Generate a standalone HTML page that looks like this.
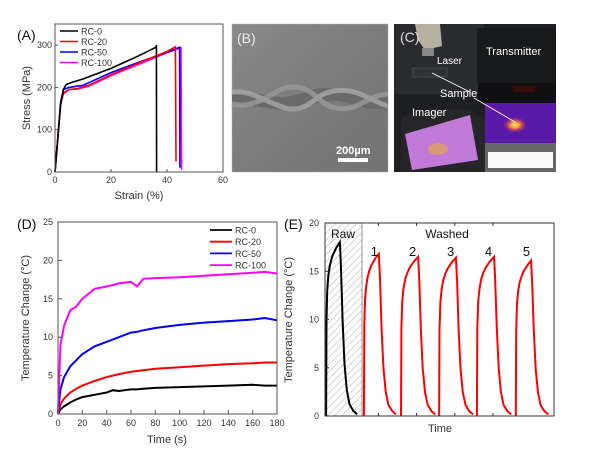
<!DOCTYPE html>
<html><head><meta charset="utf-8">
<style>
html,body{margin:0;padding:0;background:#fff;}
svg{display:block;font-family:"Liberation Sans",Arial,sans-serif;}
</style></head>
<body>
<svg id="fig" width="600" height="461" viewBox="0 0 600 461">
<defs>
<pattern id="hatch" width="5" height="5" patternUnits="userSpaceOnUse" patternTransform="rotate(45)">
<rect width="5" height="5" fill="#fff"/><line x1="0" y1="0" x2="0" y2="5" stroke="#c8c8c8" stroke-width="1.5"/>
</pattern>
<linearGradient id="bgB" x1="0" y1="0" x2="1" y2="1"><stop offset="0" stop-color="#8a8a8a"/><stop offset="0.5" stop-color="#7c7c7c"/><stop offset="1" stop-color="#727272"/></linearGradient>
<radialGradient id="hot" cx="0.5" cy="0.5" r="0.5"><stop offset="0" stop-color="#fff6a0"/><stop offset="0.4" stop-color="#ff8a20"/><stop offset="1" stop-color="#c0208f" stop-opacity="0"/></radialGradient>
</defs>

<!-- Panel A -->
<g id="panelA"></g>
<!-- Panel B photo -->
<g>
<rect x="232" y="24" width="156" height="148" fill="url(#bgB)" stroke="#aaa" stroke-width="0.5"/>
<path d="M232,95 C255,88 270,100 290,96 C310,92 320,84 340,90 C360,96 370,100 388,97 L388,108 C370,112 355,104 338,101 C318,98 305,112 285,110 C262,108 250,104 232,106 Z" fill="#6a6a6a"/>
<path d="M232,92 C250,90 262,100 285,108 C300,112 310,104 320,96 C330,90 345,88 360,94 C372,99 380,104 388,106" fill="none" stroke="#a8a8a8" stroke-width="5" opacity="0.8"/>
<path d="M232,104 C250,108 262,100 280,90 C292,84 305,86 318,98 C330,110 345,112 360,104 C372,98 380,94 388,94" fill="none" stroke="#9a9a9a" stroke-width="5" opacity="0.8"/>
<text x="237" y="43" font-size="14" fill="#eee">(B)</text>
<text x="336" y="154" font-size="11" font-weight="bold" fill="#fff">200µm</text>
<rect x="338" y="158" width="30" height="4" fill="#fff"/>
</g>
<!-- Panel C photo -->
<g>
<rect x="394" y="24" width="162" height="148" fill="#1e1f22"/>
<rect x="394" y="24" width="90" height="70" fill="#2a2b2e"/>
<rect x="477" y="28" width="79" height="55" fill="#18191b"/>
<rect x="478" y="83" width="78" height="20" fill="#101012"/>
<rect x="513" y="86" width="22" height="6" fill="#3a0a0a"/>
<path d="M415,24 L440,24 L442,46 L425,50 L418,40 Z" fill="#b8b0a0"/>
<rect x="422" y="48" width="12" height="8" fill="#888"/>
<rect x="413" y="68" width="34" height="9" fill="#2f3236" stroke="#666" stroke-width="0.5"/>
<path d="M402,118 C410,110 440,108 470,110 L485,120 L485,172 L400,172 Z" fill="#262629"/>
<path d="M405,134 L470,115 L478,160 L412,170 Z" fill="#c27ad8"/>
<ellipse cx="438" cy="149" rx="10" ry="6" fill="#e0a060" opacity="0.8"/>
<rect x="485" y="103" width="71" height="40" fill="#5a1aa8"/>
<ellipse cx="515" cy="125" rx="12" ry="8" fill="url(#hot)"/>
<rect x="485" y="143" width="71" height="29" fill="#666"/>
<rect x="488" y="152" width="65" height="16" fill="#fafafa"/>
<line x1="432" y1="73" x2="470" y2="92" stroke="#fff" stroke-width="0.8"/>
<line x1="474" y1="98" x2="515" y2="122" stroke="#fff" stroke-width="0.8"/>
<text x="400" y="42" font-size="14" fill="#ddd">(C)</text>
<text x="486" y="55" font-size="11" fill="#fff">Transmitter</text>
<text x="437" y="64" font-size="10" fill="#fff">Laser</text>
<text x="440" y="97" font-size="11" fill="#fff">Sample</text>
<text x="412" y="116" font-size="11" fill="#fff">Imager</text>
</g>
<!-- Panel D -->
<g id="panelD"></g>
<!-- Panel E -->
<g id="panelE"></g>
</svg>
<script>
// ---------- Panel A data ----------
const aSeriesNames = ["RC-0","RC-20","RC-50","RC-100"];
const aColors = ["#000000","#ff0000","#0000ff","#ff00ff"];
const aStrain0 = [0,1,2,3,4,6,10,20,30,36,36.2,36.3];
const aStress0 = [0,80,160,195,207,212,220,245,275,295,300,0];
const aStrain20 = [0,1,2,3,5,8,12,20,30,40,43,43.2];
const aStress20 = [0,80,160,185,195,197,205,230,258,285,296,25];
const aStrain50 = [0,1,2,3,5,10,20,30,40,44.5,44.6];
const aStress50 = [0,80,165,195,200,205,235,260,283,295,10];
const aStrain100 = [0,1,2,3,5,8,12,20,30,40,45,45.2];
const aStress100 = [0,80,160,188,195,196,203,228,255,282,294,5];
const aXTicks = [0,20,40,60];
const aYTicks = [0,100,200,300];

// ---------- Panel D data ----------
const dNames = ["RC-0","RC-20","RC-50","RC-100"];
const dTime = [0,2,5,10,15,20,30,40,45,50,60,65,70,80,100,120,140,160,170,180];
const dRC0 = [0,0.6,1.0,1.5,1.9,2.2,2.5,2.8,3.1,3.0,3.2,3.2,3.3,3.4,3.5,3.6,3.7,3.8,3.7,3.7];
const dRC20 = [0,1.3,2.0,2.8,3.3,3.7,4.3,4.8,5.0,5.2,5.5,5.6,5.7,5.9,6.1,6.3,6.5,6.6,6.7,6.7];
const dRC50 = [0,3.2,4.8,6.2,7.0,7.8,8.8,9.4,9.7,10.0,10.6,10.7,10.9,11.2,11.6,11.9,12.1,12.3,12.5,12.2];
const dRC100 = [0,9,11.5,13.5,14.0,15.0,16.3,16.6,16.8,17.0,17.2,16.6,17.6,17.7,17.8,18.0,18.2,18.4,18.5,18.3];
const dXTicks = [0,20,40,60,80,100,120,140,160,180];
const dYTicks = [0,5,10,15,20,25];

// ---------- Panel E data ----------
const eCycleStart = [0.3,10.2,19.9,29.9,39.8,50.0];
const eCycleDrop = [3.9,14.1,24.4,34.3,44.3,54.0];
const eCyclePeak = [18.0,16.8,16.5,16.4,16.5,16.1];
const eRiseT = [0,0.1,0.3,0.6,1.0,1.5,2.0,3.0,1.0];
const eRiseF = [0,0.55,0.72,0.8,0.86,0.9,0.93,0.97,1];
const eDecayT = [0,0.3,0.7,1.2,1.8,2.5,3.5,4.5];
const eDecayF = [1,0.85,0.55,0.3,0.15,0.07,0.03,0.01];
const eYTicks = [0,5,10,15,20];
const eCycleLabels = ["1","2","3","4","5"];

const NS="http://www.w3.org/2000/svg";
function mk(parent,tag,attrs,text){const e=document.createElementNS(NS,tag);for(const k in attrs)e.setAttribute(k,attrs[k]);if(text!==undefined)e.textContent=text;parent.appendChild(e);return e;}
function lin(d0,d1,r0,r1){return v=>r0+(v-d0)*(r1-r0)/(d1-d0);}
function pathD(xs,ys,sx,sy){return xs.map((x,i)=>(i?'L':'M')+sx(x).toFixed(1)+','+sy(ys[i]).toFixed(1)).join(' ');}

// ===== Panel A =====
(function(){
const g=document.getElementById('panelA');
const L=55,R=223,T=24,B=172;
const sx=lin(0,60,L,R), sy=lin(0,350,B,T);
const series=[[aStrain0,aStress0],[aStrain20,aStress20],[aStrain50,aStress50],[aStrain100,aStress100]];
for(let i=series.length-1;i>=0;i--){
 const p=mk(g,'path',{d:pathD(series[i][0],series[i][1],sx,sy),fill:'none',stroke:aColors[i],'stroke-width':1.6});
 
 
}
const box=mk(g,'rect',{x:L,y:T,width:R-L,height:B-T,fill:'none',stroke:'#555','stroke-width':1});

aXTicks.forEach(v=>{mk(g,'line',{x1:sx(v),x2:sx(v),y1:B,y2:B-3,stroke:'#555'});
 const t=mk(g,'text',{x:sx(v),y:B+11,'font-size':9,'text-anchor':'middle',fill:'#333'},v);
 });
aYTicks.forEach(v=>{mk(g,'line',{x1:L,x2:L+3,y1:sy(v),y2:sy(v),stroke:'#555'});
 const t=mk(g,'text',{x:L-3,y:sy(v)+3,'font-size':9,'text-anchor':'end',fill:'#333'},v);
 });
let t=mk(g,'text',{x:139,y:199,'font-size':11,'text-anchor':'middle',fill:'#333'},'Strain (%)');

t=mk(g,'text',{x:0,y:0,'font-size':11,'text-anchor':'middle',fill:'#333',transform:'translate(30,98) rotate(-90)'},'Stress (MPa)');

t=mk(g,'text',{x:17,y:40,'font-size':14,fill:'#111'},'(A)');

aSeriesNames.forEach((n,i)=>{const y=31+i*10.5;
 const l=mk(g,'line',{x1:60,x2:78,y1:y,y2:y,stroke:aColors[i],'stroke-width':1.6});
 
 const tx=mk(g,'text',{x:81,y:y+3.5,'font-size':9,fill:'#333'},n);
 });
})();

// ===== Panel D =====
(function(){
const g=document.getElementById('panelD');
const L=58,R=277,T=222,B=414;
const sx=lin(0,180,L,R), sy=lin(0,25,B,T);
const ys=[dRC0,dRC20,dRC50,dRC100];
ys.forEach((arr,i)=>{
 const p=mk(g,'path',{d:pathD(dTime,arr,sx,sy),fill:'none',stroke:aColors[i],'stroke-width':2});
 
 
});
const box=mk(g,'rect',{x:L,y:T,width:R-L,height:B-T,fill:'none',stroke:'#555','stroke-width':1});

dXTicks.forEach(v=>{mk(g,'line',{x1:sx(v),x2:sx(v),y1:B,y2:B-4,stroke:'#555'});
 const t=mk(g,'text',{x:sx(v),y:B+12,'font-size':9,'text-anchor':'middle',fill:'#333'},v);
 });
dYTicks.forEach(v=>{mk(g,'line',{x1:L,x2:L+4,y1:sy(v),y2:sy(v),stroke:'#555'});
 const t=mk(g,'text',{x:L-5,y:sy(v)+3,'font-size':9,'text-anchor':'end',fill:'#333'},v);
 });
let t=mk(g,'text',{x:167,y:443,'font-size':11,'text-anchor':'middle',fill:'#333'},'Time (s)');

t=mk(g,'text',{x:0,y:0,'font-size':11,'text-anchor':'middle',fill:'#333',transform:'translate(29,318) rotate(-90)'},'Temperature Change (°C)');

t=mk(g,'text',{x:17,y:229,'font-size':14,fill:'#111'},'(D)');

dNames.forEach((n,i)=>{const y=230+i*11.7;
 const l=mk(g,'line',{x1:210,x2:232,y1:y,y2:y,stroke:aColors[i],'stroke-width':1.8});
 
 const tx=mk(g,'text',{x:235,y:y+3.5,'font-size':9,fill:'#333'},n);
 });
})();

// ===== Panel E =====
(function(){
const g=document.getElementById('panelE');
const L=325,R=554,T=223,B=416;
const sx=lin(0,60,L,R), sy=lin(0,20,B,T);
const hx=sx(9.7);
const h=mk(g,'rect',{x:L,y:T,width:hx-L,height:B-T,fill:'url(#hatch)'});

mk(g,'line',{x1:hx,x2:hx,y1:T,y2:B,stroke:'#777','stroke-width':0.8});
eCycleStart.forEach((s,i)=>{
 const xs=[],vs=[];
 const riseDur=eCycleDrop[i]-s;
 for(let k=0;k<eRiseT.length-1;k++){xs.push(s+eRiseT[k]*riseDur/4);vs.push(eRiseF[k]*eCyclePeak[i]);}
 xs.push(eCycleDrop[i]);vs.push(eCyclePeak[i]);
 for(let k=0;k<eDecayT.length;k++){xs.push(eCycleDrop[i]+eDecayT[k]);vs.push(eDecayF[k]*eCyclePeak[i]);}
 const p=mk(g,'path',{d:pathD(xs,vs,sx,sy),fill:'none',stroke:i===0?'#000':'#ff0000','stroke-width':2});
 
 
 if(i>0){const t=mk(g,'text',{x:sx((s+eCycleDrop[i])/2+0.8),y:256,'font-size':13,'text-anchor':'middle',fill:'#111'},eCycleLabels[i-1]);
  }
});
const box=mk(g,'rect',{x:L,y:T,width:R-L,height:B-T,fill:'none',stroke:'#333','stroke-width':1});

eYTicks.forEach(v=>{mk(g,'line',{x1:L,x2:L+4,y1:sy(v),y2:sy(v),stroke:'#333'});
 const t=mk(g,'text',{x:L-6,y:sy(v)+3,'font-size':9,'text-anchor':'end',fill:'#333'},v);
 });
[14,24,34,44].forEach(v=>{mk(g,'line',{x1:sx(v),x2:sx(v),y1:T,y2:T+3,stroke:'#333'});mk(g,'line',{x1:sx(v),x2:sx(v),y1:B,y2:B-3,stroke:'#333'});});
let t=mk(g,'text',{x:440,y:432,'font-size':11,'text-anchor':'middle',fill:'#333'},'Time');

t=mk(g,'text',{x:0,y:0,'font-size':11,'text-anchor':'middle',fill:'#333',transform:'translate(292,320) rotate(-90)'},'Temperature Change (°C)');

t=mk(g,'text',{x:284,y:229,'font-size':14,fill:'#111'},'(E)');

t=mk(g,'text',{x:343,y:238,'font-size':12,'text-anchor':'middle',fill:'#111'},'Raw');

t=mk(g,'text',{x:447,y:238,'font-size':12,'text-anchor':'middle',fill:'#111'},'Washed');

})();
</script>
</body></html>
